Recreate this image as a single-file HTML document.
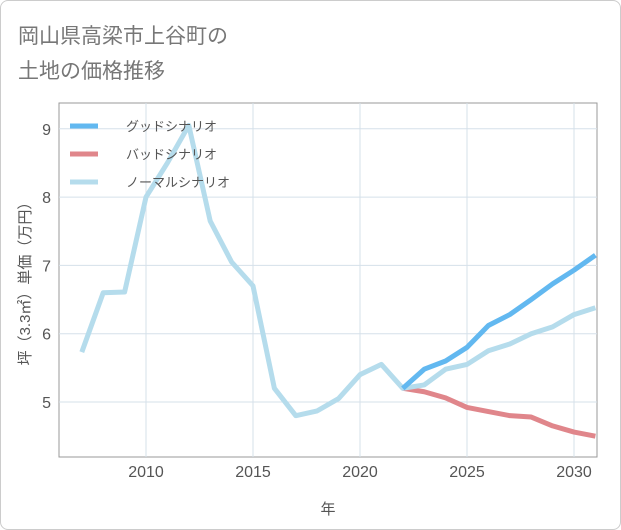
<!DOCTYPE html>
<html><head><meta charset="utf-8"><style>
body{margin:0;background:#fff;font-family:"Liberation Sans","Noto Sans CJK JP",sans-serif;}
#card{position:absolute;left:0;top:0;width:619px;height:528px;border:1px solid #ccc;border-radius:8px;background:#fff;}
</style></head><body>
<div id="card"></div>
<svg id="chart" width="621" height="530" style="position:absolute;left:0;top:0">
<text x="18" y="43" font-size="21" fill="#777" font-family="Liberation Sans, Noto Sans CJK JP, sans-serif">岡山県高梁市上谷町の</text>
<text x="18" y="78" font-size="21" fill="#777" font-family="Liberation Sans, Noto Sans CJK JP, sans-serif">土地の価格推移</text>
<g id="grid"></g><g id="series"></g><g id="legend"></g>
</svg>
<script>
const years=[2007,2008,2009,2010,2011,2012,2013,2014,2015,2016,2017,2018,2019,2020,2021,2022,2023,2024,2025,2026,2027,2028,2029,2030,2031];
const normal=[5.73,6.6,6.61,8.0,8.5,9.05,7.65,7.05,6.7,5.2,4.8,4.87,5.05,5.4,5.55,5.2,5.25,5.48,5.55,5.75,5.85,6.0,6.1,6.28,6.38];
const fYears=[2022,2023,2024,2025,2026,2027,2028,2029,2030,2031];
const good=[5.2,5.48,5.6,5.8,6.12,6.28,6.5,6.73,6.93,7.15];
const bad=[5.2,5.15,5.06,4.92,4.86,4.8,4.78,4.65,4.56,4.5];
const xTicks=[2010,2015,2020,2025,2030];
const yTicks=[5,6,7,8,9];
const NS="http://www.w3.org/2000/svg";
const L=59,R=597,T=103,B=457;
const x=v=>146+(v-2010)*21.4;
const y=v=>402-(v-5)*68.3;
function mk(tag,attrs,parent){const e=document.createElementNS(NS,tag);for(const k in attrs)e.setAttribute(k,attrs[k]);parent.appendChild(e);return e;}
const grid=document.getElementById('grid');
const bg=mk('rect',{x:L,y:T,width:R-L,height:B-T,fill:'#fff',stroke:'#999','stroke-width':1},grid);


xTicks.forEach(t=>{
 const l=mk('line',{x1:x(t),x2:x(t),y1:T,y2:B,stroke:'#d5e0ea'},grid);
 
 
 const tx=mk('text',{x:x(t),y:B+20,'font-size':16,fill:'#555','text-anchor':'middle'},grid);
 tx.textContent=t;
 
 
});
yTicks.forEach(t=>{
 const l=mk('line',{x1:L,x2:R,y1:y(t),y2:y(t),stroke:'#d5e0ea'},grid);
 
 
 const tx=mk('text',{x:L-8,y:y(t)+6,'font-size':16,fill:'#555','text-anchor':'end'},grid);
 tx.textContent=t;
 
 
});
const xt=mk('text',{x:328,y:514,'font-size':15,fill:'#555','text-anchor':'middle'},grid);
xt.textContent='年';


const yt=mk('text',{x:0,y:0,'font-size':15,fill:'#555','text-anchor':'middle',transform:'translate(30,280) rotate(-90)'},grid);
yt.textContent='坪（3.3㎡）単価（万円）';


const ser=document.getElementById('series');
function line(xs,vs,color,name){
 const p=mk('polyline',{points:xs.map((t,i)=>x(t)+','+y(vs[i])).join(' '),fill:'none',stroke:color,'stroke-width':5,'stroke-linejoin':'round'},ser);
 
 
}
line(fYears,bad,'#e0868b','bad-scenario-line');
line(years,normal,'#b5dcec','normal-scenario-line');
line(fYears,good,'#62b8f0','good-scenario-line');
const leg=document.getElementById('legend');
[['グッドシナリオ','#62b8f0','legend-good'],['バッドシナリオ','#e0868b','legend-bad'],['ノーマルシナリオ','#b5dcec','legend-normal']].forEach((d,i)=>{
 const g=mk('g',{},leg);
 
 
 mk('line',{x1:70,x2:98,y1:126+i*28,y2:126+i*28,stroke:d[1],'stroke-width':5},g);
 const t=mk('text',{x:126,y:131+i*28,'font-size':13,fill:'#555'},g);
 t.textContent=d[0];
});
</script>
</body></html>
